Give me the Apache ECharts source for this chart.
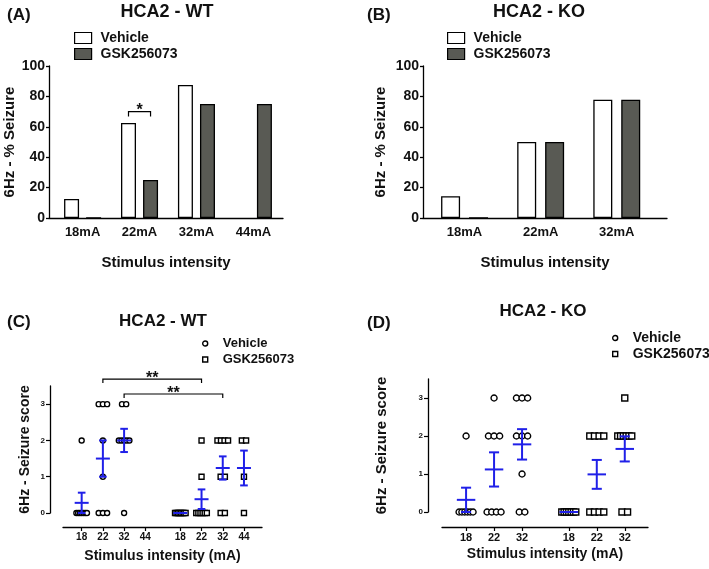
<!DOCTYPE html>
<html lang="en">
<head>
<meta charset="UTF-8">
<title>HCA2 6Hz seizure</title>
<script src="https://cdn.jsdelivr.net/npm/echarts@6.0.0/dist/echarts.min.js"></script>
<style>
    * { margin: 0; padding: 0; box-sizing: border-box; }
    body { background: #fff; }
    #chart { width: 709px; height: 569px; }
</style>
</head>
<body>
<div id="chart"></div>
<script>
// (A)/(B) percentage of mice with a seizure
const wtLevels = ['18mA', '22mA', '32mA', '44mA'];
const wtVehiclePct = [12.5, 62.5, 87.5, null];
const wtGskPct = [0, 25, 75, 75];

const koLevels = ['18mA', '22mA', '32mA'];
const koVehiclePct = [14.3, 50, 77.8];
const koGskPct = [0, 50, 77.8];

const pctTicks = [0, 20, 40, 60, 80, 100];

// (C)/(D) individual seizure scores, mean and SEM
const scoreTicks = [0, 1, 2, 3];

const wtDoses = ['18', '22', '32', '44'];
const wtVehicleScores = [
    [0, 0, 0, 0, 0, 0, 0, 2],
    [0, 0, 0, 1, 2, 3, 3, 3],
    [0, 2, 2, 2, 2, 2, 3, 3],
    []
];
const wtGskScores = [
    [0, 0, 0, 0, 0, 0, 0, 0],
    [0, 0, 0, 0, 0, 0, 1, 2],
    [0, 0, 1, 1, 2, 2, 2, 2],
    [0, 1, 2, 2]
];
const wtVehicleMean = [0.28, 1.5, 2.0, null];
const wtVehicleSem = [0.28, 0.5, 0.32, null];
const wtGskMean = [0, 0.38, 1.24, 1.24];
const wtGskSem = [0, 0.27, 0.32, 0.48];

const koDoses = ['18', '22', '32'];
const koVehicleScores = [
    [0, 0, 0, 0, 0, 0, 2],
    [0, 0, 0, 0, 2, 2, 2, 3],
    [0, 0, 1, 2, 2, 2, 3, 3, 3]
];
const koGskScores = [
    [0, 0, 0, 0, 0, 0, 0],
    [0, 0, 0, 0, 2, 2, 2, 2],
    [0, 0, 2, 2, 2, 2, 2, 2, 3]
];
const koVehicleMean = [0.32, 1.12, 1.78];
const koVehicleSem = [0.32, 0.45, 0.4];
const koGskMean = [0, 0.99, 1.66];
const koGskSem = [0, 0.38, 0.33];

// significance marks
const wtPctSignif = [{ dose: 1, y: 70, mark: '*' }];
const wtScoreSignif = [
    { dose: 1, y: 3.69, mark: '**' },
    { dose: 2, y: 3.28, mark: '**' }
];

// ---- styling / layout ----
const FONT = 'Arial, "Liberation Sans", Helvetica, sans-serif';
const INK = '#111';
const GSK_FILL = '#595a54';
const SEM_BLUE = '#2020e8';
const MEAN_HALF = 0.33;
const CAP_HALF = 0.18;
const SPREAD_STEP = 0.2;
const SPREAD_MAX = 0.5;
const WT_GAP = 0.65;
const KO_GAP = 0.67;

const bold = (size) => ({ fontFamily: FONT, fontWeight: 'bold', fontSize: size, color: INK });

function labelAt(positions, labels, v) {
    const i = positions.findIndex(p => Math.abs(p - v) < 1e-6);
    return i < 0 ? '' : labels[i];
}

// place equal scores side by side around the column centre
function spread(values, centre) {
    const counts = new Map();
    values.forEach(v => counts.set(v, (counts.get(v) || 0) + 1));
    const out = [];
    counts.forEach((n, v) => {
        const step = n > 1 ? Math.min(SPREAD_STEP, SPREAD_MAX / (n - 1)) : 0;
        for (let i = 0; i < n; i++) out.push([centre + (i - (n - 1) / 2) * step, v]);
    });
    return out;
}

const wtVehPos = wtDoses.map((_, i) => i + 1);
const wtGskPos = wtDoses.map((_, i) => i + 1 + wtDoses.length + WT_GAP);
const koVehPos = koDoses.map((_, i) => i + 1);
const koGskPos = koDoses.map((_, i) => i + 1 + koDoses.length + KO_GAP);

function xAxisPct(gridIndex, labels, min, max) {
    const pos = labels.map((_, i) => i + 1);
    return {
        gridIndex, type: 'value', min, max,
        splitLine: { show: false },
        axisLine: { onZero: false, lineStyle: { color: '#000', width: 1.3 } },
        axisTick: { show: false },
        axisLabel: Object.assign({ customValues: pos, margin: 8, formatter: v => labelAt(pos, labels, v) }, bold(13)),
        name: 'Stimulus intensity', nameLocation: 'middle', nameGap: 37,
        nameTextStyle: bold(15)
    };
}

function yAxisPct(gridIndex, nameGap) {
    return {
        gridIndex, type: 'value', min: 0, max: 100,
        splitLine: { show: false },
        axisLine: { show: true, onZero: false, lineStyle: { color: '#000', width: 1.3 } },
        axisTick: { show: true, length: 3, customValues: pctTicks, lineStyle: { color: '#000', width: 1.3 } },
        axisLabel: Object.assign({ customValues: pctTicks, margin: 4 }, bold(14)),
        name: '6Hz - % Seizure', nameLocation: 'middle', nameGap,
        nameTextStyle: bold(15)
    };
}

function xAxisScore(gridIndex, doses, vehPos, gskPos, min, max, offset, labelSize, nameGap) {
    const pos = vehPos.concat(gskPos);
    const labels = doses.concat(doses);
    return {
        gridIndex, type: 'value', min, max, offset,
        splitLine: { show: false },
        axisLine: { onZero: false, lineStyle: { color: '#000', width: 1.3 } },
        axisTick: { show: true, length: 4, customValues: pos, lineStyle: { color: '#000', width: 1.2 } },
        axisLabel: Object.assign({ customValues: pos, margin: 5, formatter: v => labelAt(pos, labels, v) }, bold(labelSize)),
        name: 'Stimulus intensity (mA)', nameLocation: 'middle', nameGap,
        nameTextStyle: bold(14)
    };
}

function yAxisScore(gridIndex, offset, nameGap, nameSize) {
    return {
        gridIndex, type: 'value', min: 0, max: 3.5, offset,
        splitLine: { show: false },
        axisLine: { show: true, onZero: false, lineStyle: { color: '#000', width: 1.3 } },
        axisTick: { show: true, length: 4, customValues: scoreTicks, lineStyle: { color: '#000', width: 1.2 } },
        axisLabel: Object.assign({ customValues: scoreTicks, margin: 5 }, bold(8)),
        name: '6Hz - Seizure score', nameLocation: 'middle', nameGap,
        nameTextStyle: bold(nameSize)
    };
}

function pctData(values) {
    return values.map((v, i) => [i + 1, v]).filter(d => d[1] !== null);
}

function barSeries(name, axis, values, fill, width) {
    return {
        type: 'bar', name, xAxisIndex: axis, yAxisIndex: axis,
        data: pctData(values), barWidth: width, barGap: '47%',
        itemStyle: { color: fill, borderColor: '#000', borderWidth: 1.3 }
    };
}

function scatterSeries(name, axis, groups, positions, symbol, size) {
    return {
        type: 'scatter', name, xAxisIndex: axis, yAxisIndex: axis,
        symbol, symbolSize: size, z: 3,
        itemStyle: { color: '#fff', borderColor: '#000', borderWidth: 1.4, opacity: 1 },
        data: groups.flatMap((vals, i) => spread(vals, positions[i]))
    };
}

function renderSem(params, api) {
    const x = api.value(0), m = api.value(1), s = api.value(2);
    const mid = api.coord([x, m]);
    const meanHalf = api.size([MEAN_HALF, 0])[0];
    const capHalf = api.size([CAP_HALF, 0])[0];
    const style = { stroke: SEM_BLUE, lineWidth: 2 };
    const children = [{ type: 'line', shape: { x1: mid[0] - meanHalf, y1: mid[1], x2: mid[0] + meanHalf, y2: mid[1] }, style }];
    if (s > 0) {
        const hi = api.coord([x, m + s]);
        const lo = api.coord([x, m - s]);
        children.push(
            { type: 'line', shape: { x1: mid[0], y1: hi[1], x2: mid[0], y2: lo[1] }, style },
            { type: 'line', shape: { x1: mid[0] - capHalf, y1: hi[1], x2: mid[0] + capHalf, y2: hi[1] }, style },
            { type: 'line', shape: { x1: mid[0] - capHalf, y1: lo[1], x2: mid[0] + capHalf, y2: lo[1] }, style }
        );
    }
    return { type: 'group', children };
}

function semSeries(axis, positions, means, sems) {
    const data = means.map((m, i) => (m === null ? null : [positions[i], m, sems[i]])).filter(Boolean);
    return { type: 'custom', xAxisIndex: axis, yAxisIndex: axis, z: 6, clip: false, data, renderItem: renderSem };
}

function bracket(x1, x2, y, mark, drop, size) {
    return {
        type: 'group',
        children: [
            { type: 'polyline', shape: { points: [[x1, y + drop], [x1, y], [x2, y], [x2, y + drop]] },
              style: { stroke: '#000', lineWidth: 1.2, fill: null } },
            { type: 'text', style: { text: mark, x: (x1 + x2) / 2, y: y + size * 0.45, align: 'center', verticalAlign: 'bottom',
              font: 'bold ' + size + 'px ' + FONT, fill: INK } }
        ]
    };
}

// bars in (A): bracket joins the two bar centres of one dose
const BAR_A = 15;
function renderPctSignif(params, api) {
    const c = api.coord([api.value(0), api.value(1)]);
    const half = (BAR_A * 1.47) / 2;
    return bracket(c[0] - half, c[0] + half, c[1], wtPctSignif[params.dataIndex].mark, 5, 16);
}

function renderScoreSignif(params, api) {
    const a = api.coord([api.value(0), api.value(2)]);
    const b = api.coord([api.value(1), api.value(2)]);
    return bracket(a[0], b[0], a[1], wtScoreSignif[params.dataIndex].mark, 4, 16);
}

const legendBase = {
    orient: 'vertical', padding: 0, selectedMode: false
};

function pctLegend(left) {
    return Object.assign({}, legendBase, {
        left, top: 31, itemGap: 2, itemWidth: 17, itemHeight: 11,
        textStyle: Object.assign({ padding: [0, 0, 0, 4] }, bold(14)),
        data: [
            { name: 'Vehicle', icon: 'rect', itemStyle: { color: '#fff', borderColor: '#000', borderWidth: 1.2 } },
            { name: 'GSK256073', icon: 'rect', itemStyle: { color: GSK_FILL, borderColor: '#000', borderWidth: 1.2 } }
        ]
    });
}

function scoreLegend(left, top, size, gap) {
    return Object.assign({}, legendBase, {
        left, top, itemGap: gap, itemWidth: 5, itemHeight: 5,
        textStyle: Object.assign({ padding: [0, 0, 0, 10] }, bold(size)),
        data: [
            { name: 'Vehicle', icon: 'circle', itemStyle: { color: '#fff', borderColor: '#000', borderWidth: 1.4 } },
            { name: 'GSK256073', icon: 'rect', itemStyle: { color: '#fff', borderColor: '#000', borderWidth: 1.4 } }
        ]
    });
}

function label(text, x, y, size, align) {
    return { type: 'text', x, y, style: { text, font: 'bold ' + size + 'px ' + FONT, fill: INK, align: align || 'left', verticalAlign: 'middle' } };
}

const chart = echarts.init(document.getElementById('chart'), null, { renderer: 'canvas' });
chart.setOption({
    animation: false,
    backgroundColor: '#fff',
    graphic: [
        label('(A)', 7, 15, 17),
        label('HCA2 - WT', 167, 12, 18, 'center'),
        label('(B)', 367, 15, 17),
        label('HCA2 - KO', 539, 12, 18, 'center'),
        label('(C)', 7, 322, 17),
        label('HCA2 - WT', 163, 321, 17, 'center'),
        label('(D)', 367, 323, 17),
        label('HCA2 - KO', 543, 311, 17, 'center')
    ],
    legend: [
        pctLegend(74),
        pctLegend(447),
        scoreLegend(202, 337, 13, 3),
        scoreLegend(612, 331, 14, 2)
    ],
    grid: [
        { left: 49, top: 66, width: 234, height: 152 },
        { left: 423, top: 66, width: 244, height: 152 },
        { left: 63, top: 386, width: 199, height: 127 },
        { left: 442, top: 379, width: 206, height: 133 }
    ],
    xAxis: [
        xAxisPct(0, wtLevels, 0.41, 4.52),
        xAxisPct(1, koLevels, 0.454, 3.66),
        xAxisScore(2, wtDoses, wtVehPos, wtGskPos, 0.12, 9.5, 14, 10, 22),
        xAxisScore(3, koDoses, koVehPos, koGskPos, 0.14, 7.5, 15, 11, 20)
    ],
    yAxis: [
        yAxisPct(0, 31),
        yAxisPct(1, 35),
        yAxisScore(2, 13, 18, 14),
        yAxisScore(3, 14, 39, 15)
    ],
    series: [
        barSeries('Vehicle', 0, wtVehiclePct, '#fff', BAR_A),
        barSeries('GSK256073', 0, wtGskPct, GSK_FILL, BAR_A),
        barSeries('Vehicle', 1, koVehiclePct, '#fff', 19),
        barSeries('GSK256073', 1, koGskPct, GSK_FILL, 19),
        {
            type: 'custom', xAxisIndex: 0, yAxisIndex: 0, clip: false, z: 6,
            data: wtPctSignif.map(s => [s.dose + 1, s.y]),
            renderItem: renderPctSignif
        },

        scatterSeries('Vehicle', 2, wtVehicleScores, wtVehPos, 'circle', 5),
        scatterSeries('GSK256073', 2, wtGskScores, wtGskPos, 'rect', 5),
        semSeries(2, wtVehPos, wtVehicleMean, wtVehicleSem),
        semSeries(2, wtGskPos, wtGskMean, wtGskSem),
        {
            type: 'custom', xAxisIndex: 2, yAxisIndex: 2, clip: false, z: 6,
            data: wtScoreSignif.map(s => [wtVehPos[s.dose], wtGskPos[s.dose], s.y]),
            renderItem: renderScoreSignif
        },

        scatterSeries('Vehicle', 3, koVehicleScores, koVehPos, 'circle', 6),
        scatterSeries('GSK256073', 3, koGskScores, koGskPos, 'rect', 6),
        semSeries(3, koVehPos, koVehicleMean, koVehicleSem),
        semSeries(3, koGskPos, koGskMean, koGskSem)
    ]
});
</script>
</body>
</html>
